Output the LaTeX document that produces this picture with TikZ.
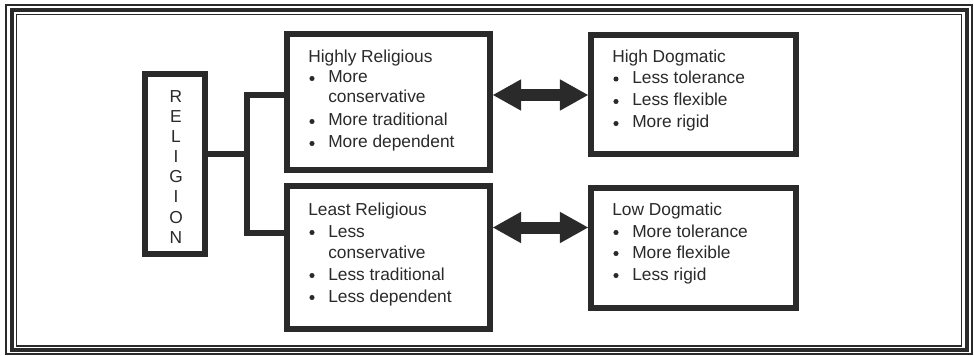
\documentclass[tikz,border=0pt]{standalone}
\usepackage{fontspec}
\setmainfont{Liberation Sans}
\usetikzlibrary{arrows.meta}
\definecolor{ink}{HTML}{2A2A2A}
\begin{document}
\begin{tikzpicture}[x=0.75pt,y=-0.75pt,
 box/.style={draw=ink,line width=4.3pt,inner sep=0pt,rectangle},
 txt/.style={anchor=base west,inner sep=0pt,text=ink,font=\fontsize{13}{15}\selectfont},
 ltr/.style={txt,anchor=base},
 conn/.style={draw=ink,line width=4.3pt,line join=miter},
 dbl/.style={draw=ink,line width=9pt,{Triangle[length=21pt,width=23.5pt,line width=0pt]}-{Triangle[length=21pt,width=23.5pt,line width=0pt]}},
 bul/.style={fill=ink}]
\useasboundingbox (0,0) rectangle (974,356);
\fill[white] (0,0) rectangle (974,356);
% frame
\draw[ink,line width=1.5pt] (6,5) rectangle (972,354);
\draw[ink,line width=3pt] (12,10.5) rectangle (966.5,350);
\draw[ink,line width=1.1pt] (16.5,14.5) rectangle (961.5,346);
% boxes
\node[box,minimum width=152.5pt,minimum height=102.25pt] (hr) at (388.5,102) {};
\node[box,minimum width=152.5pt,minimum height=107.5pt] (lr) at (388.5,257.5) {};
\node[box,minimum width=154pt,minimum height=89.5pt] (hd) at (693.5,94.5) {};
\node[box,minimum width=154pt,minimum height=90.25pt] (ld) at (693.5,248) {};
\node[box,minimum width=45.25pt,minimum height=135.25pt] (rel) at (175,164) {};
% RELIGION
\node[ltr] (r1) at (176,103) {R};
\node[ltr] (r2) at (176,123) {E};
\node[ltr] (r3) at (176,143) {L};
\node[ltr] (r4) at (176,163) {I};
\node[ltr] (r5) at (176,183) {G};
\node[ltr] (r6) at (176,203) {I};
\node[ltr] (r7) at (176,223) {O};
\node[ltr] (r8) at (176,243) {N};
% connectors
\coordinate (jm) at (247,154);
\coordinate (jt) at (247,95);
\coordinate (jb) at (247,233);
\draw[conn] (rel.east |- jm) -- (jm);
\draw[conn] (hr.west |- jt) -- (jt) -- (jb) -- (lr.west |- jb);
% arrows
\coordinate (ya) at (0,95);
\coordinate (yb) at (0,227.5);
\draw[dbl] (hr.east |- ya) -- (hd.west |- ya);
\draw[dbl] (lr.east |- yb) -- (ld.west |- yb);
% Highly Religious
\node[txt] (hrh) at (308,63) {Highly Religious};
\fill[bul] (312,78.5) circle (1.9pt);
\node[txt] (hr1) at (328,83) {More};
\node[txt] (hr1b) at (328,103) {conservative};
\fill[bul] (312,121.5) circle (1.9pt);
\node[txt] (hr2) at (328,126) {More traditional};
\fill[bul] (312,143.5) circle (1.9pt);
\node[txt] (hr3) at (328,148) {More dependent};
% Least Religious
\node[txt] (lrh) at (308,215) {Least Religious};
\fill[bul] (312,232.5) circle (1.9pt);
\node[txt] (lr1) at (328,237) {Less};
\node[txt] (lr1b) at (328,258) {conservative};
\fill[bul] (312,275.5) circle (1.9pt);
\node[txt] (lr2) at (328,280) {Less traditional};
\fill[bul] (312,297.5) circle (1.9pt);
\node[txt] (lr3) at (328,302) {Less dependent};
% High Dogmatic
\node[txt] (hdh) at (612,63) {High Dogmatic};
\fill[bul] (616,79) circle (1.9pt);
\node[txt] (hd1) at (632,83.5) {Less tolerance};
\fill[bul] (616,101.5) circle (1.9pt);
\node[txt] (hd2) at (632,106) {Less flexible};
\fill[bul] (616,123.5) circle (1.9pt);
\node[txt] (hd3) at (632,128) {More rigid};
% Low Dogmatic
\node[txt] (ldh) at (612,215) {Low Dogmatic};
\fill[bul] (616,232.5) circle (1.9pt);
\node[txt] (ld1) at (632,237) {More tolerance};
\fill[bul] (616,253.5) circle (1.9pt);
\node[txt] (ld2) at (632,258) {More flexible};
\fill[bul] (616,275.5) circle (1.9pt);
\node[txt] (ld3) at (632,280) {Less rigid};
\end{tikzpicture}
\end{document}
